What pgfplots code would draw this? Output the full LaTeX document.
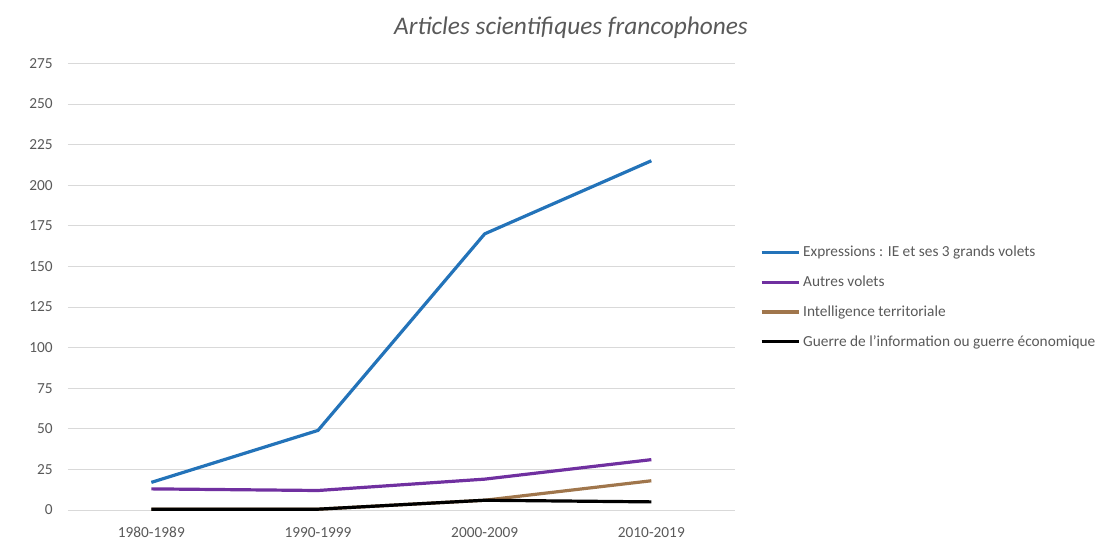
\documentclass[border=0pt]{standalone}
\usepackage{fontspec}
\setmainfont{Carlito}
\usepackage{pgfplots}
\pgfplotsset{compat=1.18}
\usetikzlibrary{calc}
\definecolor{ieblue}{RGB}{35,115,185}
\definecolor{iepurple}{RGB}{112,48,160}
\definecolor{iebrown}{RGB}{160,118,76}
\definecolor{gridgray}{RGB}{217,217,217}
\definecolor{txtgray}{RGB}{89,89,89}
\begin{document}
\begin{tikzpicture}
\begin{axis}[
  name=ax,
  scale only axis,
  width=500pt, height=335pt,
  xmin=-0.5, xmax=3.5,
  ymin=0, ymax=275,
  xtick={0,1,2,3},
  xticklabels={1980-1989,1990-1999,2000-2009,2010-2019},
  ytick={0,25,...,275},
  ymajorgrids,
  grid style={gridgray, line width=0.6pt},
  axis x line*=bottom,
  axis y line*=left,
  x axis line style={gridgray, line width=0.6pt, -},
  y axis line style={draw=none},
  major tick length=0pt,
  tick label style={font=\fontsize{11.5}{13}\selectfont, text=txtgray},
  /pgf/number format/assume math mode=true,
  yticklabel style={xshift=-8pt},
  xticklabel style={yshift=-9.5pt},
  legend style={at={(1.0375,0.597)}, anchor=north west, draw=none, fill=none,
    font=\fontsize{11.5}{13}\selectfont, text=txtgray, row sep=8.8pt, inner sep=0pt},
  legend cell align=left,
  legend image code/.code={\draw[#1, line width=2.4pt] (0pt,0pt) -- (28pt,0pt);},
  every axis plot/.append style={line width=2.4pt},
  clip=false,
]
\addplot[ieblue] coordinates {(0,17) (1,49) (2,170) (3,215)};
\addlegendentry{Expressions : IE et ses 3 grands volets}
\addplot[iepurple] coordinates {(0,13) (1,12) (2,19) (3,31)};
\addlegendentry{Autres volets}
\addplot[iebrown] coordinates {(0,0.5) (1,0.5) (2,6) (3,18)};
\addlegendentry{Intelligence territoriale}
\addplot[black] coordinates {(0,0.5) (1,0.5) (2,6) (3,5)};
\addlegendentry{Guerre de l'information ou guerre économique}
\end{axis}
\node[font=\fontsize{19}{22}\selectfont\itshape, text=txtgray] at ($(ax.south west)+(377.25pt,361.5pt)$) {Articles scientifiques francophones};
\path[use as bounding box] ($(ax.south west)+(-51pt,-28.5pt)$) rectangle ($(ax.south west)+(777.75pt,382.5pt)$);
\end{tikzpicture}
\end{document}
